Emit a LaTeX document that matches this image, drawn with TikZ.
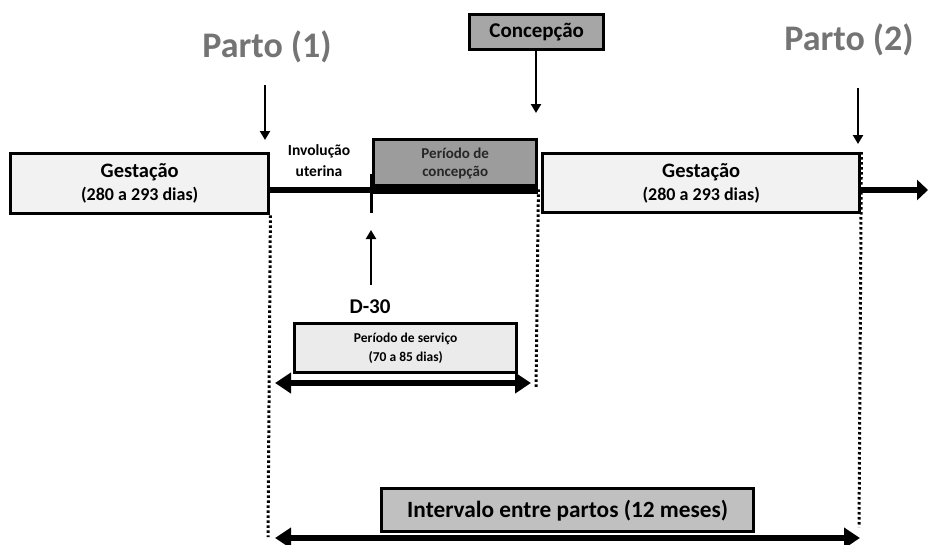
\documentclass[tikz,border=0pt]{standalone}
\usepackage{fontspec}
\setmainfont{Carlito}
\usetikzlibrary{arrows.meta}
\definecolor{partogray}{HTML}{747474}
\definecolor{lightfill}{HTML}{F2F2F2}
\definecolor{servfill}{HTML}{EBEBEB}
\definecolor{concfill}{HTML}{9C9C9C}
\definecolor{concepfill}{HTML}{A6A6A6}
\definecolor{intfill}{HTML}{C0C0C0}
\tikzset{
  boxstyle/.style={draw=black, line width=3.4pt, inner sep=0pt, anchor=north west, font=\bfseries, align=center},
  downarrow/.style={-{Triangle[length=9pt,width=10pt]}, line width=2.8pt},
  dotline/.style={line width=3pt, dash pattern=on 2.5pt off 2.5pt},
  bigdouble/.style={line width=6pt, {Triangle[length=16pt,width=20pt]}-{Triangle[length=16pt,width=20pt]}},
  parto/.style={font=\bfseries\fontsize{36}{40}\selectfont, text=partogray}
}
\begin{document}
\begin{tikzpicture}[x=1pt,y=-1pt]
\useasboundingbox (0,0) rectangle (928,544);
% Gestation boxes
\node[boxstyle, fill=lightfill, minimum width=258pt, minimum height=60pt, font=\bfseries\fontsize{20.5}{23}\selectfont] (g1) at (9,152) {Gestação\\{\fontsize{18}{21}\selectfont(280 a 293 dias)}};
\node[boxstyle, fill=lightfill, minimum width=317pt, minimum height=59pt, font=\bfseries\fontsize{20.5}{23}\selectfont] (g2) at (541,152) {Gestação\\{\fontsize{18}{21}\selectfont(280 a 293 dias)}};
% Periodo de concepcao
\node[boxstyle, fill=concfill, minimum width=163pt, minimum height=48pt, text=black!85, font=\bfseries\fontsize{15}{18}\selectfont] (pc) at (372,138) {Período de\\concepção};
% timeline
\coordinate (t0) at (267,190);
\coordinate (d30) at (371,190);
\coordinate (t1) at (538,189);
\coordinate (tend) at (928,190);
\draw[line width=6.5pt] (g1.east |- t0) -- (d30);
\draw[line width=9.5pt] (371,189) -- (t1);
\draw[line width=3pt] (371,174) -- (371,213);
\draw[line width=6.5pt, -{Triangle[length=11pt,width=20pt]}] (g2.east |- tend) -- (tend);
% Parto labels
\node[parto] (p1) at (267,47) {Parto (1)};
\node[parto] (p2) at (849,40) {Parto (2)};
\coordinate (p1a) at (265,85);
\coordinate (p1b) at (265,140);
\draw[downarrow] (p1a) -- (p1b);
\coordinate (p2a) at (858,88);
\coordinate (p2b) at (858,144);
\draw[downarrow] (p2a) -- (p2b);
% Concepcao
\node[boxstyle, fill=concepfill, minimum width=134pt, minimum height=35pt, font=\bfseries\fontsize{21}{24}\selectfont] (conc) at (468,13) {Concepção};
\coordinate (ca) at (536,50);
\draw[downarrow] (ca) -- (536,113);
% Involucao
\node[font=\bfseries\fontsize{15.5}{21}\selectfont, align=center] (inv) at (319,161) {Involução\\uterina};
% D-30
\node[font=\bfseries\fontsize{21}{24}\selectfont] (d30t) at (370,307) {D-30};
\coordinate (d30a) at (371,285);
\draw[downarrow] (d30a) -- (371,230);
% Periodo de servico
\node[boxstyle, fill=servfill, minimum width=222pt, minimum height=49pt, font=\bfseries\fontsize{13.5}{19}\selectfont] (ps) at (293,322) {Período de serviço\\(70 a 85 dias)};
\coordinate (psl) at (275,383);
\coordinate (psr) at (531,383);
\draw[bigdouble] (psl) -- (psr);
% Intervalo
\node[boxstyle, fill=intfill, minimum width=372pt, minimum height=43pt, font=\bfseries\fontsize{23.3}{26}\selectfont] (iv) at (380,487) {Intervalo entre partos (12 meses)};
\coordinate (ivl) at (275,538);
\coordinate (ivr) at (860,538);
\draw[bigdouble] (ivl) -- (ivr);
% dotted lines
\draw[dotline] (g1.south east) -- (268,537);
\draw[dotline] (pc.south east) -- (536,389);
\draw[dotline] (g2.north east) -- (859,527);
\end{tikzpicture}
\end{document}
